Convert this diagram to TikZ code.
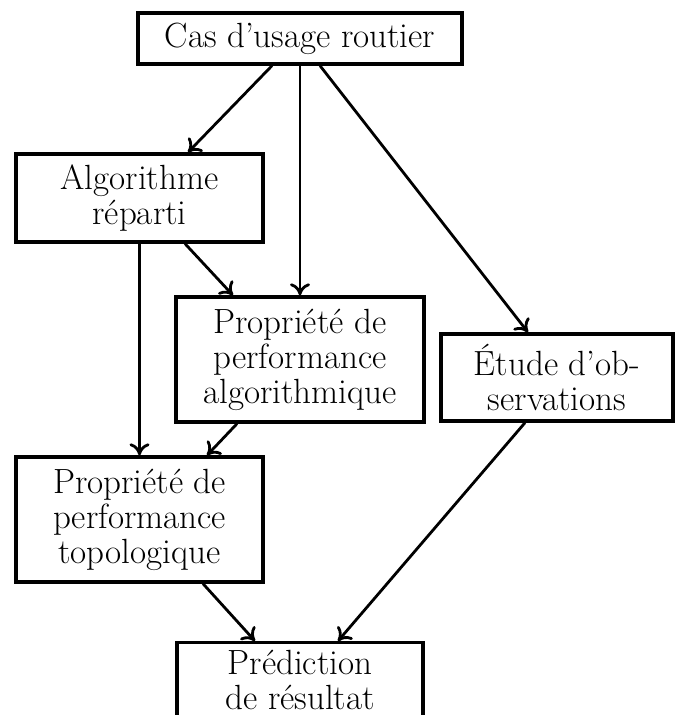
\documentclass[tikz,border=0pt]{standalone}
\usetikzlibrary{arrows.meta}
\begin{document}
\begin{tikzpicture}[x=0.5pt,y=-0.5pt,
  box/.style={draw, line width=1.7pt, inner sep=0pt, align=center,
    font=\fontsize{17.5pt}{17.5pt}\selectfont},
  conn/.style={line width=1.4pt, -{To[length=6pt,width=10pt]}}]
\clip (0,0) rectangle (676,715);
\node[box, minimum width=162pt, minimum height=25.5pt] (top) at (300,38.5) {Cas d’usage routier};
\node[box, minimum width=123.5pt, minimum height=44pt] (algo) at (139.5,198) {Algorithme\\réparti};
\node[box, minimum width=124pt, minimum height=62.5pt] (palg) at (300,359.5) {Propriété de\\performance\\algorithmique};
\node[box, minimum width=116pt, minimum height=43.5pt] (etude) at (557,377.5) {Étude d’ob-\\servations};
\node[box, minimum width=123.5pt, minimum height=62.5pt] (topo) at (139.5,519.5) {Propriété de\\performance\\topologique};
\node[box, minimum width=123pt, minimum height=44pt, anchor=north] (pred) at (300,641) {Prédiction\\de résultat\rule[-7pt]{0pt}{7pt}};
\draw[conn] ([xshift=-14pt]top.south) -- ([xshift=24.25pt]algo.north);
\draw[conn] (top.south) -- (palg.north);
\draw[conn] ([xshift=10pt]top.south) -- ([xshift=-14.5pt]etude.north);
\draw[conn] ([xshift=22.75pt]algo.south) -- ([xshift=-33.5pt]palg.north);
\draw[conn] (algo.south) -- (topo.north);
\draw[conn] ([xshift=-31.5pt]palg.south) -- ([xshift=33.75pt]topo.north);
\draw[conn] ([xshift=-16pt]etude.south) -- ([xshift=19pt]pred.north);
\draw[conn] ([xshift=31.75pt]topo.south) -- ([xshift=-22.5pt]pred.north);
\end{tikzpicture}
\end{document}
